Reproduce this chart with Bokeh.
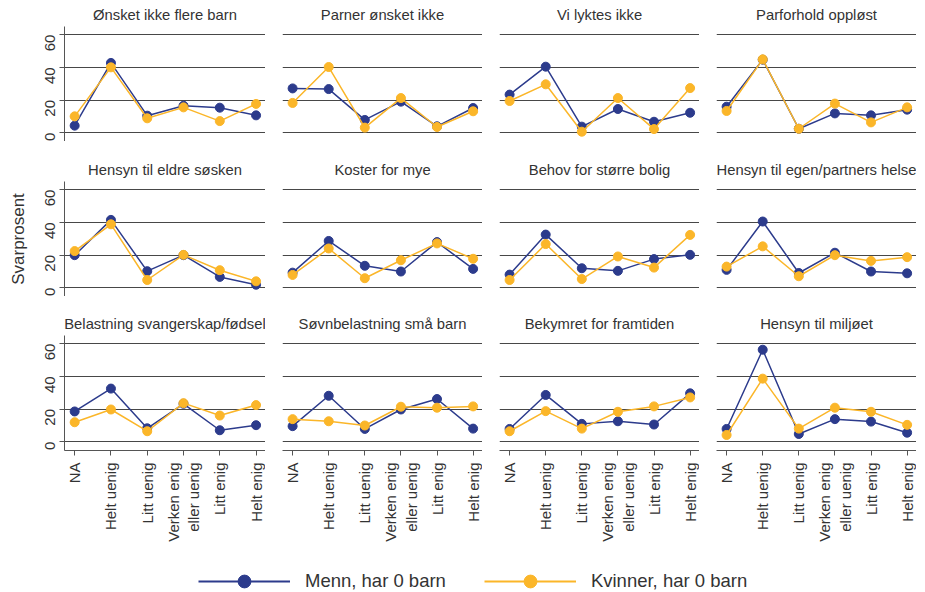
import math
from bokeh.plotting import figure
from bokeh.layouts import column, row
from bokeh.models import Range1d, FixedTicker, Grid, Legend, LegendItem, ColumnDataSource
from bokeh.embed import file_html
from bokeh.resources import INLINE

# ---------------- data ----------------
categories = ["NA", "Helt uenig", "Litt uenig", "Verken enig\neller uenig", "Litt enig", "Helt enig"]
panel_titles = [
    "Ønsket ikke flere barn", "Parner ønsket ikke", "Vi lyktes ikke", "Parforhold oppløst",
    "Hensyn til eldre søsken", "Koster for mye", "Behov for større bolig", "Hensyn til egen/partners helse",
    "Belastning svangerskap/fødsel", "Søvnbelastning små barn", "Bekymret for framtiden", "Hensyn til miljøet",
]
y_ticks = [0, 20, 40, 60]
series_names = ["Menn, har 0 barn", "Kvinner, har 0 barn"]
y_label = "Svarprosent"

menn = [
    [4.3, 42.7, 10.4, 16.5, 15.3, 10.6],
    [27.1, 26.7, 7.8, 19.0, 3.9, 15.1],
    [23.3, 40.4, 3.7, 14.5, 6.7, 12.2],
    [15.9, 44.7, 2.4, 11.8, 10.6, 14.1],
    [19.9, 41.5, 10.1, 19.9, 6.6, 1.8],
    [9.2, 28.6, 13.4, 9.9, 27.9, 11.5],
    [8.0, 32.5, 11.9, 10.3, 17.5, 20.1],
    [10.9, 40.5, 9.0, 21.4, 9.9, 8.8],
    [18.5, 32.5, 8.2, 23.2, 7.0, 10.1],
    [9.5, 28.1, 7.8, 19.7, 26.1, 8.0],
    [7.8, 28.6, 10.9, 12.5, 10.5, 29.6],
    [7.8, 56.3, 4.7, 13.8, 12.3, 5.5],
]
kvinner = [
    [10.0, 40.0, 8.8, 15.5, 7.1, 17.6],
    [18.2, 40.2, 3.1, 21.2, 3.5, 13.1],
    [19.4, 29.6, 0.6, 21.2, 2.2, 27.3],
    [13.3, 44.9, 2.4, 17.8, 6.3, 15.5],
    [22.4, 38.8, 4.7, 20.1, 10.7, 3.9],
    [7.8, 24.0, 5.8, 16.8, 27.1, 17.7],
    [4.7, 26.7, 5.3, 19.1, 12.3, 32.3],
    [12.9, 25.3, 7.0, 19.9, 16.4, 18.7],
    [11.9, 19.7, 6.4, 23.6, 16.0, 22.4],
    [13.8, 12.5, 9.9, 21.4, 20.8, 21.6],
    [6.4, 18.7, 8.0, 18.3, 21.6, 27.1],
    [4.1, 38.6, 8.0, 20.8, 18.3, 10.3],
]

# ---------------- style ----------------
FONT = "Liberation Sans"
TXT = "#333333"
AXC = "#555555"
GRIDC = "#474747"
BLUE = "#2C3B8C"
YEL = "#FBB629"

x_idx = list(range(len(categories)))

rows = []
for r in range(3):
    figs = []
    for c in range(4):
        i = r * 4 + c
        first_col = c == 0
        last_row = r == 2
        p = figure(
            frame_width=201 if first_col else 200,
            frame_height=115,
            x_range=Range1d(-0.28, 5.26),
            y_range=Range1d(-5.4, 65),
            x_axis_location="below" if last_row else None,
            y_axis_location="left" if first_col else None,
            min_border_left=64 if first_col else 17,
            min_border_right=0,
            min_border_top=25 if r == 0 else (40 if r == 1 else 39),
            min_border_bottom=111 if last_row else 0,
            output_backend="svg",
            toolbar_location=None,
            title=panel_titles[i],
        )
        p.outline_line_color = None
        p.background_fill_color = "white"
        p.border_fill_color = "white"
        p.title.align = "center"
        p.title.text_font = FONT
        p.title.text_font_size = "14.8px"
        p.title.text_font_style = "normal"
        p.title.text_color = TXT
        p.title.standoff = 8
        p.grid.visible = False
        p.add_layout(Grid(dimension=1, ticker=FixedTicker(ticks=y_ticks),
                          grid_line_color=GRIDC, grid_line_width=1))
        if first_col:
            ax = p.yaxis[0]
            ax.ticker = FixedTicker(ticks=y_ticks)
            ax.major_label_orientation = math.pi / 2
            ax.major_tick_out = 5
            ax.major_tick_in = 0
            ax.minor_tick_out = 0
            ax.minor_tick_in = 0
            ax.axis_line_color = AXC
            ax.major_tick_line_color = AXC
            ax.major_label_text_font = FONT
            ax.major_label_text_font_size = "15px"
            ax.major_label_text_color = TXT
            ax.major_label_standoff = 9
            if r == 1:
                ax.axis_label = y_label
                ax.axis_label_text_font = FONT
                ax.axis_label_text_font_size = "17px"
                ax.axis_label_text_font_style = "normal"
                ax.axis_label_text_color = TXT
                ax.axis_label_standoff = 10
        if last_row:
            ax = p.xaxis[0]
            ax.ticker = FixedTicker(ticks=x_idx)
            ax.major_label_overrides = {k: v for k, v in zip(x_idx, categories)}
            ax.major_label_orientation = math.pi / 2
            ax.major_tick_out = 5
            ax.major_tick_in = 0
            ax.minor_tick_out = 0
            ax.minor_tick_in = 0
            ax.axis_line_color = AXC
            ax.major_tick_line_color = AXC
            ax.major_label_text_font = FONT
            ax.major_label_text_font_size = "15px"
            ax.major_label_text_color = TXT
            ax.major_label_standoff = 7
        p.line(x_idx, menn[i], line_color=BLUE, line_width=1.5)
        p.scatter(x_idx, menn[i], size=9, fill_color=BLUE, line_color=BLUE)
        p.line(x_idx, kvinner[i], line_color=YEL, line_width=1.5)
        p.scatter(x_idx, kvinner[i], size=9, fill_color=YEL, line_color=YEL)
        figs.append(p)
    rows.append(row(*figs, spacing=0))

# legend strip (legend-only renderers, hidden)
lf = figure(width=916, height=32, min_border=0, x_axis_location=None, y_axis_location=None,
            output_backend="svg", toolbar_location=None,
            x_range=Range1d(-0.28, 5.26), y_range=Range1d(-5.4, 65))
lf.outline_line_color = None
lf.grid.visible = False
src_m = ColumnDataSource(dict(x=x_idx[:1], y=menn[0][:1]))
src_k = ColumnDataSource(dict(x=x_idx[:1], y=kvinner[0][:1]))
l1 = lf.line("x", "y", source=src_m, line_color=BLUE, line_width=2.2, visible=False)
s1 = lf.scatter("x", "y", source=src_m, size=13, fill_color=BLUE, line_color=BLUE, visible=False)
l2 = lf.line("x", "y", source=src_k, line_color=YEL, line_width=2.2, visible=False)
s2 = lf.scatter("x", "y", source=src_k, size=13, fill_color=YEL, line_color=YEL, visible=False)
legend = Legend(
    items=[LegendItem(label=series_names[0], renderers=[l1, s1]),
           LegendItem(label=series_names[1], renderers=[l2, s2])],
    location=(198, -4), orientation="horizontal",
    glyph_width=92, glyph_height=32, label_standoff=15, spacing=38,
    label_text_font=FONT, label_text_font_size="18.5px", label_text_color=TXT,
    border_line_color=None, background_fill_alpha=0, padding=0, margin=0,
)
lf.add_layout(legend)

layout = column(*rows, lf, spacing=0)
open("out.html", "w").write(file_html(layout, INLINE))
